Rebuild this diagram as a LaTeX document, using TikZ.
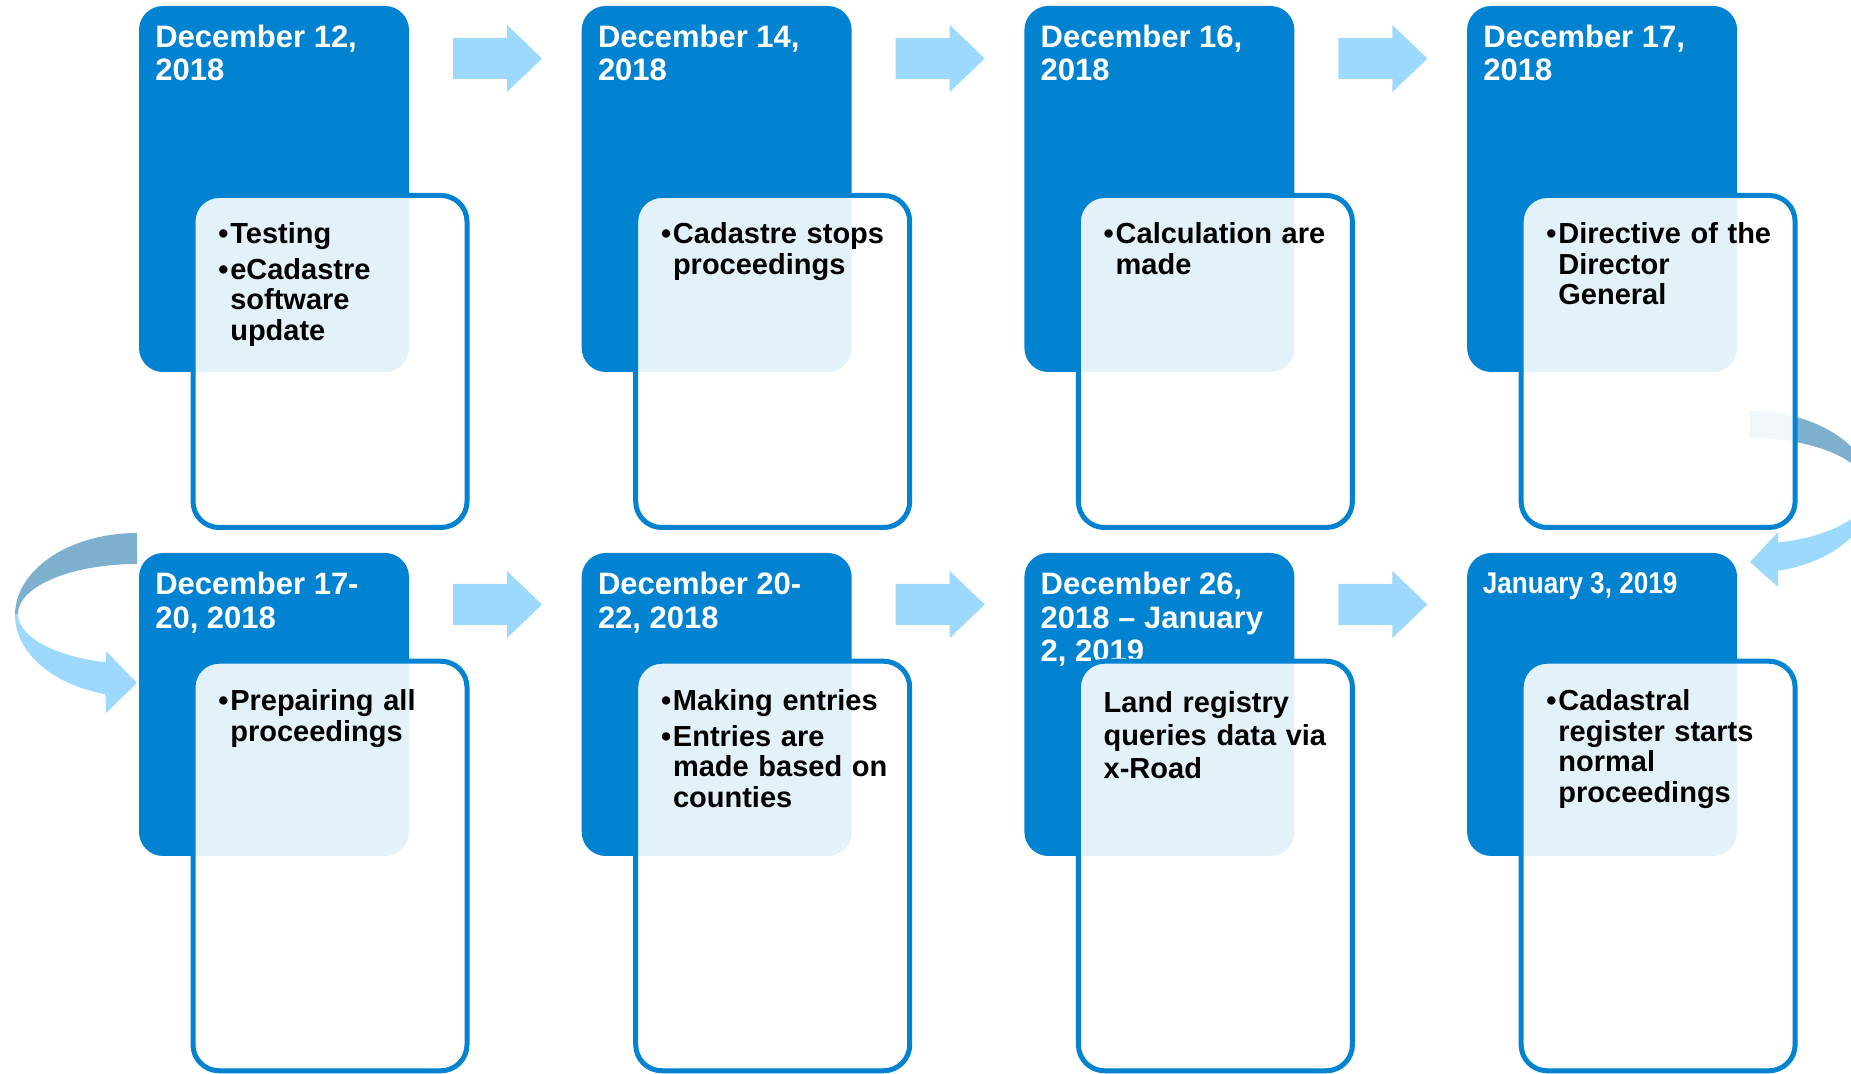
\documentclass[tikz,border=0pt]{standalone}
\usepackage{fontspec}
\setmainfont{Liberation Sans}
\usepackage{tikz}

\definecolor{boxblue}{RGB}{2,131,209}
\definecolor{arrowblue}{RGB}{157,217,252}
\definecolor{ribbonshade}{RGB}{125,175,207}
\newcommand{\datefont}{\fontsize{31}{33.5}\selectfont\bfseries}
\newcommand{\itemfont}{\fontsize{29}{30.5}\selectfont\bfseries\setlength{\parskip}{5pt}}
\newcommand{\bul}[1]{\hangindent=12pt\hangafter=1\noindent\makebox[12pt][l]{\textbullet}#1\par}

\begin{document}
\begin{tikzpicture}[x=1pt,y=1pt,node distance=442.7pt,semithick]
	\tikzstyle{datebox}=[rectangle,rounded corners=24pt,fill=boxblue,minimum width=270pt,minimum height=366pt,inner sep=0pt,outer sep=0pt]
	\tikzstyle{notebox}=[rectangle,rounded corners=26pt,draw=boxblue,line width=5pt,fill=white,fill opacity=0.89,draw opacity=1,minimum width=274pt,minimum height=332pt,inner sep=0pt,outer sep=0pt]
	\tikzstyle{datetext}=[anchor=north west,inner sep=0pt,text=white,font=\datefont,align=left]
	\tikzstyle{itemtext}=[anchor=north west,inner sep=0pt,text=black,font=\itemfont,text width=250pt,align=left]
	\tikzstyle{blockarrow}=[fill=arrowblue]
	\tikzstyle{ribbonfront}=[fill=arrowblue]
	\tikzstyle{ribbonback}=[fill=ribbonshade]
	
	\useasboundingbox (0,0) rectangle (1851,1073);
	\clip (0,0) rectangle (1851,1073);
	
	\node[datebox] (d1) at (274,884) {};
	\node[datebox] (d2) [right of=d1] {};
	\node[datebox] (d3) [right of=d2] {};
	\node[datebox] (d4) [right of=d3] {};
	\node[datebox,minimum height=303pt] (d5) at (274,368.5) {};
	\node[datebox,minimum height=303pt] (d6) [right of=d5] {};
	\node[datebox,minimum height=303pt] (d7) [right of=d6] {};
	\node[datebox,minimum height=303pt] (d8) [right of=d7] {};
	
	\node[datetext] (t1) at ([shift={(16,-18.5)}]d1.north west) {December 12,\\2018};
	\node[datetext] (t2) at ([shift={(16,-18.5)}]d2.north west) {December 14,\\2018};
	\node[datetext] (t3) at ([shift={(16,-18.5)}]d3.north west) {December 16,\\2018};
	\node[datetext] (t4) at ([shift={(16,-18.5)}]d4.north west) {December 17,\\2018};
	\node[datetext] (t5) at ([shift={(16,-19)}]d5.north west) {December 17-\\20, 2018};
	\node[datetext] (t6) at ([shift={(16,-19)}]d6.north west) {December 20-\\22, 2018};
	\node[datetext] (t7) at ([shift={(16,-19)}]d7.north west) {December 26,\\2018 – January\\2, 2019};
	\node[datetext,font=\fontsize{30}{33}\selectfont\bfseries] (t8) at ([shift={(15.5,-19.5)}]d8.north west) {\scalebox{0.87}[1]{January 3, 2019}};
	
	\fill[blockarrow] (453,994) -- ++(54,0) -- ++(0,-13) -- ++(35,33.5) -- ++(-35,33.5) -- ++(0,-13) -- ++(-54,0) -- cycle;
	\fill[blockarrow] (895.7,994) -- ++(54,0) -- ++(0,-13) -- ++(35,33.5) -- ++(-35,33.5) -- ++(0,-13) -- ++(-54,0) -- cycle;
	\fill[blockarrow] (1338.4,994) -- ++(54,0) -- ++(0,-13) -- ++(35,33.5) -- ++(-35,33.5) -- ++(0,-13) -- ++(-54,0) -- cycle;
	\fill[blockarrow] (453,448) -- ++(54,0) -- ++(0,-13) -- ++(35,33.5) -- ++(-35,33.5) -- ++(0,-13) -- ++(-54,0) -- cycle;
	\fill[blockarrow] (895.7,448) -- ++(54,0) -- ++(0,-13) -- ++(35,33.5) -- ++(-35,33.5) -- ++(0,-13) -- ++(-54,0) -- cycle;
	\fill[blockarrow] (1338.4,448) -- ++(54,0) -- ++(0,-13) -- ++(35,33.5) -- ++(-35,33.5) -- ++(0,-13) -- ++(-54,0) -- cycle;
	
	\fill[ribbonback] plot[domain=90:180,samples=40] ({137+122*cos(\x)},{458+82*sin(\x)}) -- plot[domain=180:90,samples=40] ({137+119*cos(\x)},{459+50*sin(\x)}) -- cycle;
	\fill[ribbonfront] plot[domain=180:255,samples=40] ({137+122*cos(\x)},{458+82*sin(\x)}) -- (106,360) -- (137,390) -- (106,422) -- plot[domain=255:180,samples=40] ({137+119*cos(\x)},{459+50*sin(\x)}) -- cycle;
	\fill[ribbonback] plot[domain=90:0,samples=40] ({1750+122*cos(\x)},{581+81*sin(\x)}) -- plot[domain=0:90,samples=40] ({1750+119*cos(\x)},{582+53*sin(\x)}) -- cycle;
	\fill[ribbonfront] plot[domain=0:-76.7,samples=40] ({1750+122*cos(\x)},{581+81*sin(\x)}) -- (1778,486) -- (1750,511) -- (1778,541) -- plot[domain=-76.4:0,samples=40] ({1750+119*cos(\x)},{582+53*sin(\x)}) -- cycle;
	
	\node[notebox] (w1) at (330,711.5) {};
	\node[notebox] (w2) [right of=w1] {};
	\node[notebox] (w3) [right of=w2] {};
	\node[notebox] (w4) [right of=w3] {};
	\node[notebox,minimum height=409.5pt] (w5) at (330,207) {};
	\node[notebox,minimum height=409.5pt] (w6) [right of=w5] {};
	\node[notebox,minimum height=409.5pt] (w7) [right of=w6] {};
	\node[notebox,minimum height=409.5pt] (w8) [right of=w7] {};
	
	\node[itemtext] (b1) at ([shift={(25,-27)}]w1.north west) {\bul{Testing}\bul{eCadastre\newline software\newline update}};
	\node[itemtext] (b2) at ([shift={(25,-27)}]w2.north west) {\bul{Cadastre stops\newline proceedings}};
	\node[itemtext] (b3) at ([shift={(25,-27)}]w3.north west) {\bul{Calculation are\newline made}};
	\node[itemtext] (b4) at ([shift={(25,-27)}]w4.north west) {\bul{Directive of the\newline Director\newline General}};
	\node[itemtext] (b5) at ([shift={(25,-28)}]w5.north west) {\bul{Prepairing all\newline proceedings}};
	\node[itemtext] (b6) at ([shift={(25,-28)}]w6.north west) {\bul{Making entries}\bul{Entries are\newline made based on\newline counties}};
	\node[itemtext,font=\fontsize{29}{33}\selectfont\bfseries] (b7) at ([shift={(25,-30)}]w7.north west) {Land registry\newline queries data via\newline x-Road};
	\node[itemtext] (b8) at ([shift={(25,-28)}]w8.north west) {\bul{Cadastral\newline register starts\newline normal\newline proceedings}};
\end{tikzpicture}
\end{document}
